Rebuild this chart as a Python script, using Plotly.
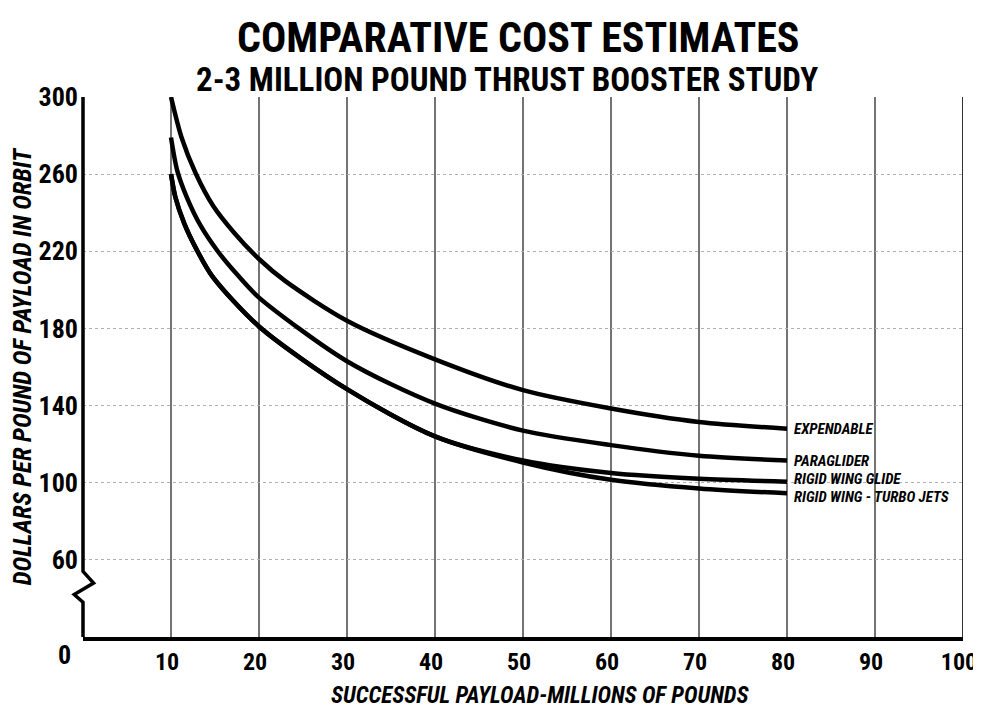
import plotly.graph_objects as go

# ---- data ----
exp_x = [10, 11.2, 12.8, 14.8, 17.2, 20, 23, 30, 40, 50, 60, 70, 80]
exp_y = [300, 279, 260.5, 243.5, 229.5, 216, 204.5, 184, 164, 148, 138.5, 131.5, 128]

para_x = [10, 10.7, 11.8, 13.4, 15.4, 17.7, 20, 30, 40, 50, 60, 70, 80]
para_y = [279, 262, 248, 233, 219.5, 207, 196, 163, 141, 127, 119.5, 114, 111.5]

glide_x = [10, 10.5, 11.5, 12.9, 14.7, 20, 30, 40, 50, 60, 70, 80]
glide_y = [260, 248, 234.5, 221, 207, 181, 148.5, 124, 111.5, 105, 102, 100.5]

turbo_x = [10, 10.5, 11.5, 12.9, 14.7, 20, 30, 40, 50, 60, 70, 80]
turbo_y = [260, 248, 234.5, 221, 207, 181, 148.5, 124, 110.5, 101.5, 97, 94.5]

series_names = ["EXPENDABLE", "PARAGLIDER", "RIGID WING GLIDE", "RIGID WING - TURBO JETS"]

x_ticks = [10, 20, 30, 40, 50, 60, 70, 80, 90, 100]
y_ticks = [60, 100, 140, 180, 220, 260, 300]

TITLE = "COMPARATIVE COST ESTIMATES"
SUBTITLE = "2-3 MILLION POUND THRUST BOOSTER STUDY"
X_TITLE = "SUCCESSFUL PAYLOAD-MILLIONS OF POUNDS"
Y_TITLE = "DOLLARS PER POUND OF PAYLOAD IN ORBIT"

FONT = "Liberation Sans Narrow, Roboto Condensed, Liberation Sans, DejaVu Sans"

fig = go.Figure()
all_series = [(exp_x, exp_y), (para_x, para_y), (glide_x, glide_y), (turbo_x, turbo_y)]
label_shift = [0, 0, 3, -4]
for (xs, ys), name, ysh in zip(all_series, series_names, label_shift):
    fig.add_trace(go.Scatter(x=xs, y=ys, mode="lines", name=name,
                             line=dict(color="black", width=4.5, shape="spline", smoothing=0.8),
                             showlegend=False, hoverinfo="skip"))
    fig.add_annotation(x=xs[-1], y=ys[-1], xref="x", yref="y", text="<b><i>%s</i></b>" % name,
                       showarrow=False, xanchor="left", yanchor="middle", xshift=5, yshift=ysh,
                       font=dict(family=FONT, size=15, color="black"))

# vertical grid lines (solid) and right border
for xv in x_ticks:
    fig.add_shape(type="line", xref="x", yref="paper", x0=xv, x1=xv, y0=0, y1=1,
                  line=dict(color="black", width=1.6 if xv == 100 else 1.1), layer="below")

# left axis with break symbol
fig.add_shape(type="path", xref="paper", yref="y",
              path="M 0,300 L 0,54 L 0.012,48 L -0.010,42 L 0,38 L 0,20",
              line=dict(color="black", width=3.5))

fig.update_layout(
    width=973, height=707,
    margin=dict(l=75, r=18, t=89, b=78),
    paper_bgcolor="white", plot_bgcolor="white",
    xaxis=dict(range=[0, 100], tickvals=x_ticks, ticktext=["<b>%d</b>" % v for v in x_ticks],
               showgrid=False, zeroline=False, automargin=False,
               showline=True, linecolor="black", linewidth=3.5,
               ticks="", ticklabelstandoff=0, ticklabeloverflow="allow", ticklabelshift=-4,
               tickfont=dict(family=FONT, size=24, color="black")),
    yaxis=dict(range=[20, 300], tickvals=y_ticks, ticktext=["<b>%d</b>" % v for v in y_ticks],
               showgrid=True, gridcolor="#b0b0b0", griddash="dot", gridwidth=1,
               zeroline=False, showline=False, ticks="", ticklabelstandoff=4, automargin=False,
               tickfont=dict(family=FONT, size=26, color="black"),
               title=dict(text="<b><i>%s</i></b>" % Y_TITLE, standoff=3,
                          font=dict(family=FONT, size=25, color="black"))),
)

fig.add_annotation(xref="paper", yref="paper", x=0.519, y=-0.108, text="<b><i>%s</i></b>" % X_TITLE,
                   showarrow=False, xanchor="center", yanchor="middle",
                   font=dict(family=FONT, size=23, color="black"))
fig.add_annotation(xref="paper", yref="paper", x=-0.0205, y=-0.033, text="<b>0</b>",
                   showarrow=False, xanchor="center", yanchor="middle",
                   font=dict(family=FONT, size=26, color="black"))
fig.add_annotation(xref="paper", yref="paper", x=0.494, y=1.11, text="<b>%s</b>" % TITLE,
                   showarrow=False, xanchor="center", yanchor="middle",
                   font=dict(family=FONT, size=42, color="black"))
fig.add_annotation(xref="paper", yref="paper", x=0.482, y=1.032, text="<b>%s</b>" % SUBTITLE,
                   showarrow=False, xanchor="center", yanchor="middle",
                   font=dict(family=FONT, size=33, color="black"))

fig.write_html("out.html")
